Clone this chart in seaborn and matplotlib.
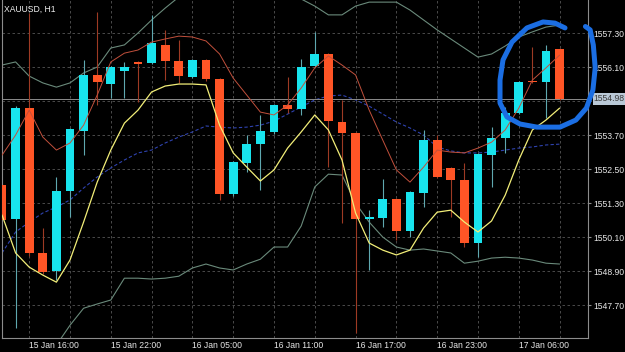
import numpy as np
import pandas as pd
import matplotlib
matplotlib.use("Agg")
import matplotlib.pyplot as plt
import seaborn as sns

# XAUUSD H1 bars, 15 Jan 14:00 -> 17 Jan 09:00
opens = [1551.94, 1550.74, 1554.65, 1549.54, 1548.90, 1551.72, 1553.84, 1555.82, 1555.50, 1555.96,
         1556.28, 1556.24, 1556.88, 1556.31, 1555.75, 1556.35, 1555.68, 1551.62, 1552.71, 1553.38,
         1553.81, 1554.76, 1554.62, 1556.14, 1556.56, 1554.16, 1553.77, 1550.73, 1550.77, 1551.44,
         1550.31, 1551.65, 1553.52, 1552.54, 1552.11, 1549.89, 1552.99, 1553.59, 1554.48, 1555.61,
         1555.57, 1556.73]
highs = [1552.01, 1554.72, 1558.01, 1550.42, 1552.22, 1553.95, 1556.35, 1558.04, 1556.15, 1556.28,
         1556.30, 1557.94, 1557.41, 1557.05, 1556.40, 1556.40, 1555.72, 1552.80, 1553.70, 1554.41,
         1554.80, 1555.75, 1556.38, 1557.34, 1556.60, 1554.93, 1553.80, 1551.05, 1552.15, 1551.48,
         1551.72, 1553.88, 1553.70, 1552.58, 1552.71, 1553.07, 1553.98, 1554.69, 1555.62, 1556.81,
         1556.88, 1556.78]
lows = [1550.63, 1546.89, 1549.43, 1548.80, 1548.58, 1550.81, 1552.99, 1554.76, 1555.01, 1555.01,
        1554.86, 1556.20, 1555.64, 1555.53, 1555.70, 1555.60, 1551.41, 1551.55, 1552.39, 1551.76,
        1553.75, 1554.48, 1554.41, 1556.10, 1552.57, 1550.59, 1546.71, 1548.94, 1550.45, 1549.99,
        1550.10, 1551.16, 1552.18, 1550.81, 1549.75, 1549.39, 1551.87, 1553.07, 1554.45, 1555.53,
        1554.30, 1554.95]
closes = [1550.70, 1554.65, 1549.54, 1548.87, 1551.72, 1553.91, 1555.82, 1555.57, 1556.10, 1556.10,
          1556.22, 1556.95, 1556.31, 1555.78, 1556.35, 1555.68, 1551.62, 1552.75, 1553.38, 1553.84,
          1554.76, 1554.62, 1556.10, 1556.56, 1554.19, 1553.77, 1550.73, 1550.81, 1551.44, 1550.31,
          1551.69, 1553.52, 1552.22, 1552.11, 1549.89, 1553.03, 1553.59, 1554.48, 1555.57, 1555.57,
          1556.67, 1554.98]

# Bollinger bands (outer grey lines)
bb_upper = [1556.17, 1556.28, 1555.78, 1555.54, 1555.39, 1555.54, 1555.89, 1556.10, 1556.77, 1556.88,
            1557.30, 1557.76, 1558.18, 1558.57, 1558.82, 1558.99, 1559.10, 1559.10, 1558.99, 1558.89,
            1558.75, 1558.64, 1558.50, 1558.25, 1557.94, 1557.94, 1558.25, 1558.39, 1558.39, 1558.39,
            1558.11, 1557.76, 1557.41, 1557.09, 1556.77, 1556.45, 1556.56, 1556.84, 1557.16, 1557.34,
            1557.51, 1557.58]
bb_lower = [1545.76, 1545.94, 1546.11, 1546.22, 1546.29, 1546.99, 1547.59, 1547.74, 1547.88, 1548.65,
            1548.65, 1548.62, 1548.65, 1548.72, 1549.01, 1549.15, 1549.01, 1548.94, 1549.15, 1549.32,
            1549.75, 1549.75, 1550.49, 1551.87, 1552.32, 1552.29, 1551.30, 1550.63, 1550.10, 1549.75,
            1549.64, 1549.68, 1549.61, 1549.54, 1549.18, 1549.25, 1549.36, 1549.39, 1549.36, 1549.29,
            1549.18, 1549.15]
# fast envelope (red upper / yellow lower)
fast_upper = [1552.99, 1553.70, 1554.58, 1553.63, 1553.17, 1553.42, 1554.05, 1555.11, 1556.28, 1556.59,
              1556.70, 1556.98, 1557.09, 1557.19, 1557.16, 1557.02, 1556.56, 1555.71, 1555.11, 1554.51,
              1554.41, 1554.76, 1555.36, 1556.07, 1556.49, 1556.17, 1555.82, 1554.58, 1553.52, 1552.47,
              1552.04, 1552.57, 1553.17, 1553.10, 1553.07, 1553.24, 1553.45, 1553.88, 1554.65, 1555.64,
              1556.07, 1556.52]
fast_lower = [1550.88, 1549.54, 1549.04, 1548.76, 1548.51, 1549.29, 1550.63, 1552.04, 1553.17, 1554.12,
              1554.58, 1555.22, 1555.43, 1555.50, 1555.50, 1555.47, 1554.05, 1553.07, 1552.57, 1552.08,
              1552.47, 1553.24, 1553.81, 1554.41, 1553.88, 1552.82, 1550.95, 1549.89, 1549.64, 1549.47,
              1549.64, 1550.42, 1550.98, 1551.05, 1550.63, 1550.28, 1550.67, 1551.58, 1552.82, 1553.88,
              1554.23, 1554.65]
# slow moving average (blue dashed)
ma_slow = [1549.54, 1550.28, 1550.63, 1550.95, 1551.16, 1551.41, 1551.83, 1552.22, 1552.54, 1552.82,
           1553.07, 1553.17, 1553.42, 1553.63, 1553.81, 1554.02, 1553.98, 1553.95, 1553.98, 1554.05,
           1554.19, 1554.44, 1554.69, 1554.94, 1555.08, 1555.11, 1554.94, 1554.72, 1554.44, 1554.16,
           1553.95, 1553.70, 1553.28, 1553.14, 1553.07, 1553.07, 1553.10, 1553.17, 1553.24, 1553.28,
           1553.35, 1553.38]

last_price = 1554.98
price_ticks = [1557.30, 1556.10, 1554.90, 1553.70, 1552.50, 1551.30, 1550.10, 1548.90, 1547.70]
time_labels = ["15 Jan 16:00", "15 Jan 22:00", "16 Jan 05:00", "16 Jan 11:00",
               "16 Jan 17:00", "16 Jan 23:00", "17 Jan 06:00"]
first_label_bar = 2

# hand drawn highlight (bar index, price)
circle_x = [41.40, 40.66, 39.78, 38.60, 37.50, 36.84, 36.62, 36.62, 37.13, 38.09, 39.34, 41.03,
            42.20, 42.97, 43.45, 43.62, 43.48, 43.25, 42.90]
circle_y = [1557.48, 1557.65, 1557.69, 1557.48, 1556.98, 1556.35, 1555.64, 1554.83, 1554.34, 1554.09,
            1553.98, 1553.98, 1554.23, 1554.65, 1555.29, 1556.07, 1556.88, 1557.41, 1557.53]

df = pd.DataFrame({"open": opens, "high": highs, "low": lows, "close": closes,
                   "bb_upper": bb_upper, "bb_lower": bb_lower,
                   "fast_upper": fast_upper, "fast_lower": fast_lower, "ma": ma_slow})
df["bar"] = np.arange(len(df))
df["up"] = df["close"] >= df["open"]

sns.set_style("dark", {"axes.facecolor": "black", "figure.facecolor": "black"})
plt.rcParams["font.family"] = ["Liberation Sans", "DejaVu Sans"]

BULL, BEAR = "#18e4ee", "#ff5526"
GRID = "#555555"

fig = plt.figure(figsize=(6.25, 3.52), dpi=100)
ax = fig.add_axes([2 / 625, 14 / 352, 586 / 625, 338 / 352])
ax.set_facecolor("black")

# grid
for p in price_ticks:
    ax.axhline(p, color=GRID, lw=0.6, ls=(0, (3, 3)), zorder=0)
for b in range(first_label_bar - 3 * (first_label_bar // 3), len(df), 3):
    ax.axvline(b, color=GRID, lw=0.6, ls=(0, (3, 3)), zorder=0)

# indicators
sns.lineplot(data=df, x="bar", y="bb_upper", ax=ax, color="#6a8a7b", lw=0.8, zorder=1)
sns.lineplot(data=df, x="bar", y="bb_lower", ax=ax, color="#6a8a7b", lw=0.8, zorder=1)
sns.lineplot(data=df, x="bar", y="ma", ax=ax, color="#2f43b0", lw=0.8, linestyle=(0, (3, 2)), zorder=1)

# candles
w = 0.64
for up, col, wick in [(True, BULL, "#5fa8b0"), (False, BEAR, "#9e3a24")]:
    d = df[df["up"] == up]
    ax.vlines(d["bar"], d["low"], d["high"], color=wick, lw=0.8, zorder=2)
    body = (d["close"] - d["open"]).abs().clip(lower=0.05)
    ax.bar(d["bar"], body, bottom=d[["open", "close"]].min(axis=1), width=w,
           color=col, edgecolor="none", zorder=3)

sns.lineplot(data=df, x="bar", y="fast_upper", ax=ax, color="#c2503c", lw=0.7, zorder=4)
sns.lineplot(data=df, x="bar", y="fast_lower", ax=ax, color="#f2ee78", lw=0.9, zorder=4)

# current price line + label
ax.axhline(last_price, color="#8c8c8c", lw=0.7, zorder=1)
ax.text(1.01, last_price, f"{last_price:.2f}", transform=ax.get_yaxis_transform(),
        ha="left", va="center", fontsize=6.2, color="#3a3a3a",
        bbox=dict(boxstyle="square,pad=0.15", fc="#b9c8d6", ec="none"), zorder=5)

ax.set_xlim(0, 43.09)
ax.set_ylim(1546.54, 1558.465)

ax.yaxis.tick_right()
ax.set_yticks(price_ticks)
ax.set_yticklabels([f"{p:.2f}" if abs(p - 1554.90) > 0.01 else "" for p in price_ticks])
ax.tick_params(axis="y", colors="#8c8c8c", labelcolor="#e8e8e8", labelsize=6.2, length=2, pad=2)

xt = [first_label_bar + 6 * k for k in range(len(time_labels))]
ax.set_xticks(xt)
ax.set_xticklabels(time_labels)
for t in ax.get_xticklabels():
    t.set_ha("left")
ax.tick_params(axis="x", colors="#8c8c8c", labelcolor="#e8e8e8", labelsize=6.2, length=0, pad=2)
ax.set_xlabel("")
ax.set_ylabel("")
ax.grid(False)

for s in ["left", "bottom", "right"]:
    ax.spines[s].set_visible(True)
    ax.spines[s].set_color("#8c8c8c")
    ax.spines[s].set_linewidth(0.8)
ax.spines["top"].set_visible(False)

ax.text(0.003, 0.985, "XAUUSD, H1", transform=ax.transAxes, ha="left", va="top",
        fontsize=6.2, color="#f0f0f0", zorder=6)

ax.plot(circle_x, circle_y, color="#1b6ee3", lw=3.6, solid_capstyle="round",
        solid_joinstyle="round", clip_on=False, zorder=10)

fig.savefig("out.png", dpi=100, facecolor="black")
